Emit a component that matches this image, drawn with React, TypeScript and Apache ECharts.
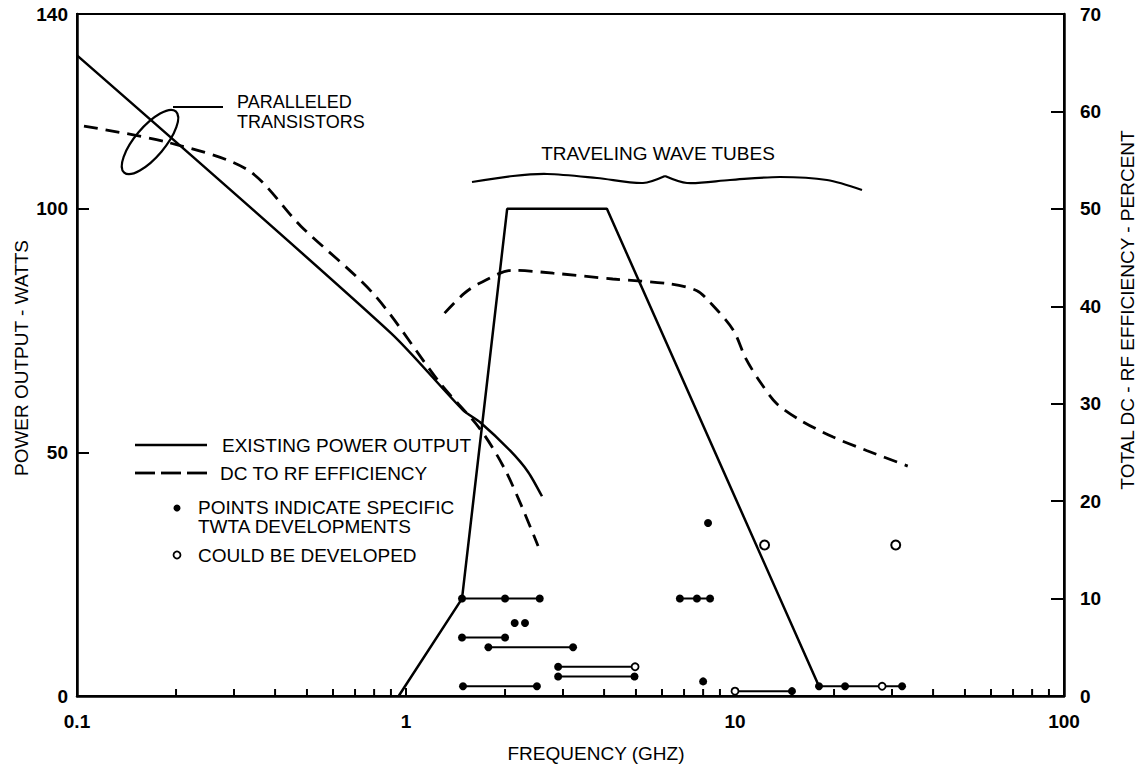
import React, { useEffect, useRef } from 'react';
import * as echarts from 'echarts';

// ---------- DATA ----------
const xMajorTicks = [0.1, 1, 10, 100];
const xMinorTicks = [0.2, 0.3, 0.4, 0.5, 0.6, 0.7, 0.8, 0.9, 2, 3, 4, 5, 6, 7, 8, 9, 20, 30, 40, 50, 60, 70, 80, 90];
const leftTicks = [0, 50, 100, 140];
const rightTicks = [0, 10, 20, 30, 40, 50, 60, 70];

// Paralleled transistors (power, watts)
const transistorPower = [[0.1, 131.5], [0.9, 74.5], [1.49, 58.7], [1.68, 56.2], [2.07, 50.4], [2.35, 46], [2.59, 41]];
// Paralleled transistors (efficiency, percent)
const transistorEff = [[0.105, 58.5], [0.19, 56.8], [0.33, 54], [0.48, 48.2], [0.8, 41.2], [1.27, 32.1], [1.68, 27.4], [2.03, 22.8], [2.52, 15.4]];
// Traveling wave tubes: power envelope (watts)
const twtPower = [[0.95, 0], [1.48, 20], [2.03, 100], [4.08, 100], [18, 2]];
// Traveling wave tubes: efficiency (percent)
const twtEff = [[1.31, 39.3], [1.5, 41.3], [1.68, 42.4], [2.11, 43.7], [2.8, 43.4], [4.25, 42.8], [6.34, 42.3], [7.66, 41.6], [8.4, 40.4], [9.86, 37.6], [10.8, 34.6], [12, 32.1], [13.4, 30], [15.8, 28.3], [19.8, 26.6], [25.1, 25.2], [33.5, 23.6]];

// Specific TWTA developments (watts), connected groups
const twtaRow20a = [[1.48, 20], [2.0, 20], [2.55, 20]];
const twtaRow20b = [[6.8, 20], [7.66, 20], [8.4, 20]];
const twtaRow12 = [[1.48, 12], [2.0, 12]];
const twtaRow10 = [[1.78, 10], [3.22, 10]];
const twtaRow6 = [[2.9, 6], [4.97, 6]];
const twtaRow4 = [[2.9, 4], [4.95, 4]];
const twtaRow2 = [[1.49, 2], [2.5, 2]];
const twtaRow1 = [[10, 1], [14.9, 1]];
const twtaRowHigh = [[18, 2], [21.6, 2], [28, 2], [32.2, 2]];
const twtaSingles = [[2.14, 15], [2.3, 15], [8.0, 3], [8.28, 35.5]];
const twtaOpenMarkers = [[4.97, 6], [10, 1], [28, 2]];
// Could be developed (watts)
const couldBeDeveloped = [[12.3, 31], [30.8, 31]];

const FONT = '"Liberation Sans", Arial, sans-serif';

export default function App() {
  const ref = useRef<HTMLDivElement>(null);

  useEffect(() => {
    const chart = echarts.init(ref.current!, null, { renderer: 'svg' });

    const isOpen = (p: number[]) => twtaOpenMarkers.some(o => o[0] === p[0] && o[1] === p[1]);
    const groupSeries = [twtaRow20a, twtaRow20b, twtaRow12, twtaRow10, twtaRow6, twtaRow4, twtaRow2, twtaRow1, twtaRowHigh].map((g, i) => ({
      name: 'TWTA developments ' + (i + 1),
      type: 'line',
      yAxisIndex: 0,
      data: g.map(p => isOpen(p)
        ? { value: p, itemStyle: { color: '#fff', borderColor: '#000', borderWidth: 1.8 }, symbolSize: 7 }
        : { value: p }),
      symbol: 'circle',
      symbolSize: 8,
      showSymbol: true,
      itemStyle: { color: '#000', opacity: 1 },
      lineStyle: { color: '#000', width: 2 },
      z: 4,
    }));

    const labelStyle = { color: '#000', fontSize: 19, fontWeight: 'bold', fontFamily: FONT };

    const textEl = (text: string, x: number, y: number, size = 19, align = 'left', rotation = 0) => ({
      type: 'text',
      x, y, rotation,
      style: {
        text, fill: '#000', fontSize: size, fontFamily: FONT,
        align, textAlign: align, verticalAlign: 'middle', textVerticalAlign: 'middle',
      },
      z: 10,
    });

    chart.setOption({
      animation: false,
      backgroundColor: '#fff',
      grid: { left: 77, right: 79, top: 14, bottom: 69, show: true, borderColor: '#000', borderWidth: 2, containLabel: false },
      xAxis: {
        type: 'log',
        logBase: 10,
        min: xMajorTicks[0],
        max: xMajorTicks[xMajorTicks.length - 1],
        axisLine: { show: true, lineStyle: { color: '#000', width: 2.5 } },
        axisTick: { show: true, inside: true, length: 8, lineStyle: { color: '#000', width: 2 } },
        axisLabel: { ...labelStyle, margin: 16, formatter: (v: number) => String(Number(v.toPrecision(3))) },
        splitLine: { show: false },
      },
      yAxis: [
        {
          type: 'value', min: leftTicks[0], max: leftTicks[leftTicks.length - 1], interval: 50, position: 'left',
          axisLine: { show: true, lineStyle: { color: '#000', width: 2.5 } },
          axisTick: { show: true, inside: true, length: 12, lineStyle: { color: '#000', width: 2 } },
          axisLabel: { ...labelStyle, margin: 9 },
          splitLine: { show: false },
        },
        {
          type: 'value', min: rightTicks[0], max: rightTicks[rightTicks.length - 1], interval: 10, position: 'right',
          axisLine: { show: true, lineStyle: { color: '#000', width: 2.5 } },
          axisTick: { show: true, inside: true, length: 13, lineStyle: { color: '#000', width: 2 } },
          axisLabel: { ...labelStyle, margin: 16 },
          splitLine: { show: false },
        },
      ],
      series: [
        {
          name: 'x minor ticks', type: 'custom', xAxisIndex: 0, yAxisIndex: 0, silent: true, clip: false,
          data: xMinorTicks.map(v => [v, 0]),
          renderItem: (params: any, api: any) => {
            const p = api.coord([api.value(0), 0]);
            return { type: 'line', shape: { x1: p[0], y1: p[1], x2: p[0], y2: p[1] - 7 }, style: { stroke: '#000', lineWidth: 2 } };
          },
          z: 2,
        },
        {
          name: 'Paralleled transistors power', type: 'line', yAxisIndex: 0, data: transistorPower,
          smooth: 0.25, showSymbol: false, symbol: 'none', lineStyle: { color: '#000', width: 2.5 }, z: 3,
        },
        {
          name: 'Paralleled transistors efficiency', type: 'line', yAxisIndex: 1, data: transistorEff,
          smooth: 0.3, showSymbol: false, symbol: 'none', lineStyle: { color: '#000', width: 2.8, type: [14, 8] }, z: 3,
        },
        {
          name: 'TWT power', type: 'line', yAxisIndex: 0, data: twtPower,
          showSymbol: false, symbol: 'none', lineStyle: { color: '#000', width: 2.5 }, z: 3,
        },
        {
          name: 'TWT efficiency', type: 'line', yAxisIndex: 1, data: twtEff,
          smooth: 0.3, showSymbol: false, symbol: 'none', lineStyle: { color: '#000', width: 2.8, type: [14, 8] }, z: 3,
        },
        ...groupSeries,
        {
          name: 'TWTA developments (single)', type: 'scatter', yAxisIndex: 0, data: twtaSingles,
          symbol: 'circle', symbolSize: 8, itemStyle: { color: '#000', opacity: 1 }, z: 4,
        },
        {
          name: 'Could be developed', type: 'scatter', yAxisIndex: 0, data: couldBeDeveloped,
          symbol: 'circle', symbolSize: 9, itemStyle: { color: '#fff', borderColor: '#000', borderWidth: 2, opacity: 1 }, z: 4,
        },
      ],
      graphic: [
        // paralleled transistors annotation
        { type: 'ellipse', x: 150, y: 142, rotation: 0.87, shape: { cx: 0, cy: 0, rx: 40, ry: 15 }, style: { fill: 'none', stroke: '#000', lineWidth: 2.2 }, z: 10 },
        { type: 'line', shape: { x1: 173, y1: 107, x2: 223, y2: 107 }, style: { stroke: '#000', lineWidth: 2.2 }, z: 10 },
        textEl('PARALLELED', 237, 102, 18),
        textEl('TRANSISTORS', 237, 122, 18),
        // traveling wave tubes brace
        { type: 'polyline', shape: { points: [[472, 182], [513, 176], [547, 174], [597, 178], [643, 183], [665, 176]], smooth: 0.3 }, style: { fill: 'none', stroke: '#000', lineWidth: 2.2 }, z: 10 },
        { type: 'polyline', shape: { points: [[665, 176], [687, 183], [730, 180], [780, 177], [827, 180], [862, 190]], smooth: 0.3 }, style: { fill: 'none', stroke: '#000', lineWidth: 2.2 }, z: 10 },
        textEl('TRAVELING WAVE TUBES', 658, 153, 19, 'center'),
        // legend
        { type: 'line', shape: { x1: 135, y1: 445, x2: 207, y2: 445 }, style: { stroke: '#000', lineWidth: 2.5 }, z: 10 },
        textEl('EXISTING POWER OUTPUT', 222, 445, 19),
        { type: 'line', shape: { x1: 135, y1: 473, x2: 155, y2: 473 }, style: { stroke: '#000', lineWidth: 2.8 }, z: 10 },
        { type: 'line', shape: { x1: 161, y1: 473, x2: 181, y2: 473 }, style: { stroke: '#000', lineWidth: 2.8 }, z: 10 },
        { type: 'line', shape: { x1: 187, y1: 473, x2: 207, y2: 473 }, style: { stroke: '#000', lineWidth: 2.8 }, z: 10 },
        textEl('DC TO RF EFFICIENCY', 220, 473, 19),
        { type: 'circle', shape: { cx: 177, cy: 508, r: 3.5 }, style: { fill: '#000' }, z: 10 },
        textEl('POINTS INDICATE SPECIFIC', 198, 507, 19),
        textEl('TWTA DEVELOPMENTS', 198, 526, 19),
        { type: 'circle', shape: { cx: 177, cy: 555, r: 3.5 }, style: { fill: '#fff', stroke: '#000', lineWidth: 1.8 }, z: 10 },
        textEl('COULD BE DEVELOPED', 198, 555, 19),
        // axis names
        textEl('FREQUENCY (GHZ)', 596, 753, 19, 'center'),
        textEl('POWER OUTPUT - WATTS', 21, 358, 19, 'center', Math.PI / 2),
        textEl('TOTAL DC - RF EFFICIENCY - PERCENT', 1127, 310, 19, 'center', Math.PI / 2),
      ],
    });

    return () => chart.dispose();
  }, []);

  return <div ref={ref} style={{ position: 'fixed', left: 0, top: 0, width: 1143, height: 765, background: '#fff' }} />;
}
